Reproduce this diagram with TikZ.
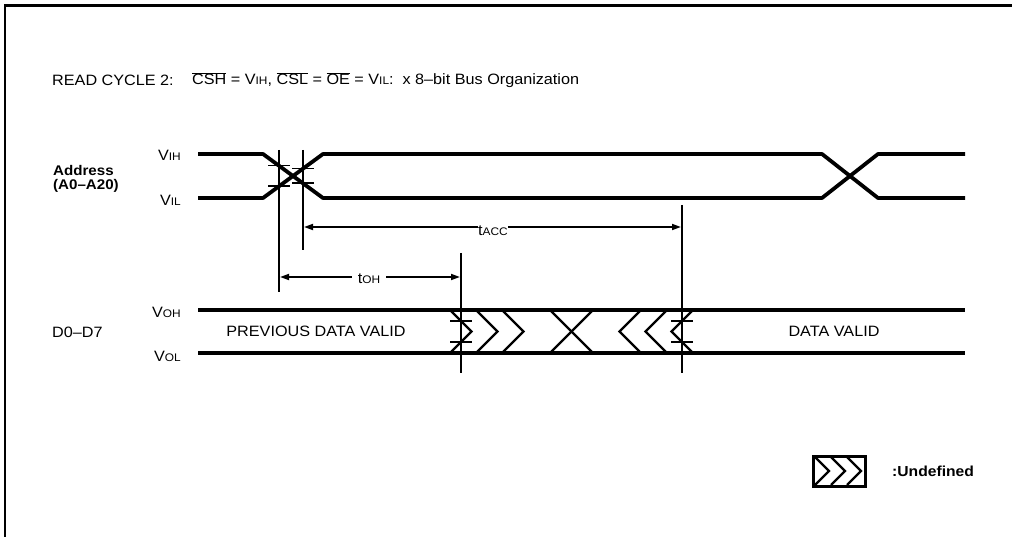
\documentclass[tikz,border=0pt]{standalone}
\usepackage{fontspec}
\setmainfont{Liberation Sans}[FakeStretch=1.08]
\usetikzlibrary{arrows.meta}
\newcommand\sigv[2]{#1{\fontsize{11}{12}\selectfont #2}}
\newcommand\ovl[1]{$\overline{\mbox{#1}}$}
\begin{document}
\begin{tikzpicture}[x=1pt,y=-1pt,
  >={Triangle[length=9pt,width=6pt]},
  wave/.style={line width=3.8pt,line join=round},
  dimline/.style={line width=1.7pt},
  vline/.style={line width=1.8pt},
  hatch/.style={line width=2.3pt,line join=miter},
  tickmark/.style={line width=1.6pt},
  lbl/.style={inner sep=0pt,font=\fontsize{15}{17}\selectfont},
  blbl/.style={inner sep=0pt,font=\fontsize{14}{17}\selectfont\bfseries}]
\useasboundingbox (0,0) rectangle (1012,537);
\fill[white] (0,0) rectangle (1012,537);
% frame
\coordinate (fTL) at (4,6); \coordinate (fTR) at (1012,6);
\coordinate (fL0) at (5,5); \coordinate (fL1) at (5,537);
\draw[line width=3pt] (fTL) -- (fTR);
\draw[line width=2.5pt] (fL0) -- (fL1);
% title
\node[lbl,anchor=west] (title1) at (52,80) {READ CYCLE 2:};
\node[lbl,anchor=west] (title2) at (192,80) {\ovl{CSH} = \sigv{V}{IH}, \ovl{CSL} = \ovl{OE} = \sigv{V}{IL}:\ \ x 8–bit Bus Organization};
% labels
\node[blbl,anchor=west] (addr1) at (53,170) {Address};
\node[blbl,anchor=west] (addr2) at (53,186) {(A0–A20)};
\node[lbl,anchor=east] (vih) at (181,155) {\sigv{V}{IH}};
\node[lbl,anchor=east] (vil) at (181,200) {\sigv{V}{IL}};
\node[lbl,anchor=west] (dlab) at (52,332) {D0–D7};
\node[lbl,anchor=east] (voh) at (181,312) {\sigv{V}{OH}};
\node[lbl,anchor=east] (vol) at (181,356) {\sigv{V}{OL}};
% address waveform
\coordinate (aH0) at (198,154); \coordinate (aL0) at (198,198);
\coordinate (aH1) at (263,154); \coordinate (aL1) at (263,198);
\coordinate (aH2) at (323,154); \coordinate (aL2) at (323,198);
\coordinate (aH3) at (822,154); \coordinate (aL3) at (822,198);
\coordinate (aH4) at (878,154); \coordinate (aL4) at (878,198);
\coordinate (aH5) at (965,154); \coordinate (aL5) at (965,198);
\draw[wave] (aH0) -- (aH1) -- (aL2) -- (aL3) -- (aH4) -- (aH5);
\draw[wave] (aL0) -- (aL1) -- (aH2) -- (aH3) -- (aL4) -- (aL5);
% data lines
\coordinate (dH0) at (198,310); \coordinate (dH1) at (965,310);
\coordinate (dL0) at (198,353); \coordinate (dL1) at (965,353);
\draw[wave] (dH0) -- (dH1);
\draw[wave] (dL0) -- (dL1);
% undefined region chevrons
\foreach \x in {450,476,502} {
  \draw[hatch] (\x,310) -- (\x+21.5,331.5) -- (\x,353);
}
\draw[hatch] (550,310) -- (593,353);
\draw[hatch] (550,353) -- (593,310);
\foreach \x in {641,667,693} {
  \draw[hatch] (\x,310) -- (\x-21.5,331.5) -- (\x,353);
}
% timing verticals
\coordinate (v1t) at (279,150); \coordinate (v1b) at (279,292);
\coordinate (v2t) at (303,150); \coordinate (v2b) at (303,250);
\coordinate (v3t) at (461,253); \coordinate (v3b) at (461,373);
\coordinate (v4t) at (682,205); \coordinate (v4b) at (682,373);
\draw[vline] (v1t) -- (v1b);
\draw[vline] (v2t) -- (v2b);
\draw[vline] (v3t) -- (v3b);
\draw[vline] (v4t) -- (v4b);
% threshold ticks
\foreach \x/\y in {279/165.7,279/186.3,303/168.7,303/183.3,461/321,461/342,682/321,682/342} {
  \draw[tickmark] (\x-11,\y) -- (\x+11,\y);
}
% tACC
\coordinate (acL) at (304,227); \coordinate (acR) at (681,227);
\node[lbl] (tacc) at (493,231) {t{\fontsize{11}{12}\selectfont ACC}};
\draw[dimline,<-] (acL) -- (tacc.west |- acL);
\draw[dimline,->] (tacc.east |- acR) -- (acR);
% tOH
\coordinate (ohL) at (280,277); \coordinate (ohR) at (460,277);
\node[lbl] (toh) at (369,279) {t{\fontsize{11}{12}\selectfont OH}};
\draw[dimline,<-] (ohL) -- ([xshift=-6pt]toh.west |- ohL);
\draw[dimline,->] ([xshift=6pt]toh.east |- ohR) -- (ohR);
% data texts
\node[lbl] (prev) at (316,331) {PREVIOUS DATA VALID};
\node[lbl] (valid) at (834,331) {DATA VALID};
% legend
\node[draw,line width=3pt,minimum width=52pt,minimum height=30pt,inner sep=0pt] (legbox) at (839.5,471) {};
\foreach \x in {815,831,847} {
  \draw[hatch] (\x,457) -- (\x+14,471) -- (\x,485);
}
\node[blbl,anchor=west,font=\fontsize{14.5}{17}\selectfont\bfseries] (legtext) at (892,471) {:Undefined};
\end{tikzpicture}
\end{document}
